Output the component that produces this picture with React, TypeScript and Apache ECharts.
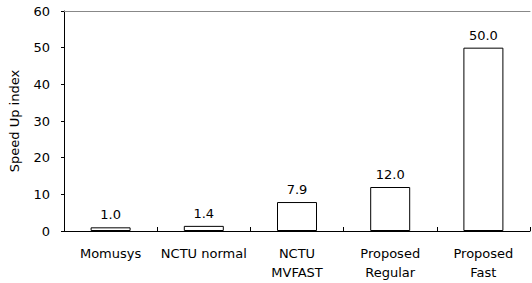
import React, { useEffect, useRef } from "react";
import * as echarts from "echarts";

const categories = ["Momusys", "NCTU normal", "NCTU\nMVFAST", "Proposed\nRegular", "Proposed\nFast"];
const speedUp = [1.0, 1.4, 7.9, 12.0, 50.0];
const yTicks = { min: 0, max: 60, interval: 10 };

const FONT = "DejaVu Sans";

export default function App() {
  const ref = useRef<HTMLDivElement>(null);
  useEffect(() => {
    if (!ref.current) return;
    const chart = echarts.init(ref.current, undefined, { renderer: "svg" });
    chart.setOption({
      animation: false,
      grid: { left: 60, right: 2, top: 11, bottom: 52 },
      xAxis: [
        {
          type: "category",
          data: categories,
          axisLine: { lineStyle: { color: "#000", width: 1 } },
          axisTick: { show: true, inside: true, length: 4, lineStyle: { color: "#000" } },
          axisLabel: { color: "#000", fontFamily: FONT, fontSize: 13, margin: 13, lineHeight: 19, interval: 0 },
        },
        {
          type: "category",
          data: categories,
          position: "top",
          axisLine: { show: true, lineStyle: { color: "#888", width: 1 } },
          axisTick: { show: false },
          axisLabel: { show: false },
        },
      ],
      yAxis: {
        type: "value",
        min: yTicks.min,
        max: yTicks.max,
        interval: yTicks.interval,
        name: "Speed Up index",
        nameLocation: "middle",
        nameGap: 43,
        nameTextStyle: { color: "#000", fontFamily: FONT, fontSize: 13 },
        axisLine: { show: true, lineStyle: { color: "#000", width: 1 } },
        axisTick: { show: true, length: 3, lineStyle: { color: "#000" } },
        axisLabel: { color: "#000", fontFamily: FONT, fontSize: 13, margin: 14 },
        splitLine: { show: false },
      },
      series: [
        {
          type: "bar",
          data: speedUp,
          barWidth: 40,
          itemStyle: { color: "#fff", borderColor: "#000", borderWidth: 1 },
          label: {
            show: true,
            position: "top",
            distance: 6,
            color: "#000",
            fontFamily: FONT,
            fontSize: 13,
            formatter: (p: any) => Number(p.value).toFixed(1),
          },
        },
      ],
    });
    return () => chart.dispose();
  }, []);
  return <div ref={ref} style={{ width: 532, height: 283, position: "absolute", left: 0, top: 0 }} />;
}
